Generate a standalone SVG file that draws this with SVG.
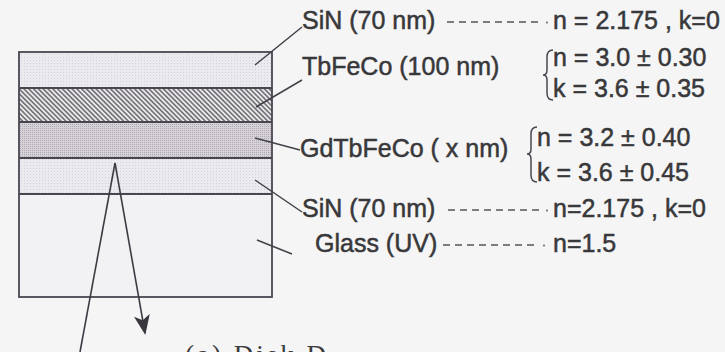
<svg xmlns="http://www.w3.org/2000/svg" width="725" height="352" viewBox="0 0 725 352">
  <style>
    .lbl { font-family: "Liberation Sans", Arial, sans-serif; font-size: 25px; fill: #38383a; stroke: #38383a; stroke-width: 0.5; }
    .cap { font-family: "Liberation Serif", "Times New Roman", serif; font-size: 27px; fill: #3a3a3c; letter-spacing: 3px; }
    .edge { fill: none; stroke: #4a4650; stroke-width: 1.8; }
    .lead { fill: none; stroke: #444048; stroke-width: 1.5; }
    .dash { fill: none; stroke: #555; stroke-width: 1.3; stroke-dasharray: 7 5; }
    .brace { fill: none; stroke: #4a4650; stroke-width: 1.5; }
    .ray { fill: none; stroke: #3f3b44; stroke-width: 1.6; }
  </style>
  <defs>
    <pattern id="dotsLight" width="3" height="3" patternUnits="userSpaceOnUse">
      <rect width="3" height="3" fill="#ebeaee"/>
      <rect x="0" y="0" width="1" height="1" fill="#d3d1d7"/>
    </pattern>
    <pattern id="dotsDark" width="2" height="2" patternUnits="userSpaceOnUse">
      <rect width="2" height="2" fill="#d6d2d8"/>
      <rect x="0" y="0" width="1" height="1" fill="#aea9b2"/>
    </pattern>
    <pattern id="hatch" width="4" height="3.4" patternUnits="userSpaceOnUse" patternTransform="rotate(45)">
      <rect width="4" height="3.4" fill="#ebebec"/>
      <line x1="0" y1="1.7" x2="4" y2="1.7" stroke="#55505a" stroke-width="1.3"/>
    </pattern>
    <marker id="arrow" viewBox="0 0 20 16" refX="18" refY="8" markerWidth="20" markerHeight="16" markerUnits="userSpaceOnUse" orient="auto">
      <path d="M0,0 L20,8 L0,16 L5,8 Z" fill="#3a363e"/>
    </marker>
  </defs>

  <rect width="725" height="352" fill="#f5f5f6"/>

  <g id="layer-sin-top">
    <rect x="19" y="52" width="253" height="36" fill="url(#dotsLight)"/>
    <text class="lbl" x="302" y="29">SiN (70 nm)</text>
    <text class="lbl" x="553" y="29">n = 2.175 , k=0</text>
  </g>
  <g id="layer-tbfeco">
    <rect x="19" y="88" width="253" height="34" fill="url(#hatch)"/>
    <text class="lbl" x="302" y="75">TbFeCo (100 nm)</text>
    <path class="brace" d="M553,50 Q547,50 547,57 L547,70 Q547,75 543,75 Q547,75 547,80 L547,93 Q547,100 553,100"/>
    <text class="lbl" x="553" y="66">n = 3.0 ± 0.30</text>
    <text class="lbl" x="553" y="97">k = 3.6 ± 0.35</text>
  </g>
  <g id="layer-gdtbfeco">
    <rect x="19" y="122" width="253" height="36" fill="url(#dotsDark)"/>
    <text class="lbl" x="300" y="157">GdTbFeCo ( x nm)</text>
    <path class="brace" d="M537,127 Q531,127 531,134 L531,149 Q531,154 527,154 Q531,154 531,159 L531,175 Q531,182 537,182"/>
    <text class="lbl" x="537" y="146">n = 3.2 ± 0.40</text>
    <text class="lbl" x="537" y="181">k = 3.6 ± 0.45</text>
  </g>
  <g id="layer-sin-bottom">
    <rect x="19" y="158" width="253" height="36" fill="url(#dotsLight)"/>
    <text class="lbl" x="302" y="217">SiN (70 nm)</text>
    <text class="lbl" x="553" y="217">n=2.175 , k=0</text>
  </g>
  <g id="layer-glass">
    <rect x="19" y="194" width="253" height="103" fill="#f2f2f4"/>
    <text class="lbl" x="315" y="252">Glass (UV)</text>
    <text class="lbl" x="553" y="252">n=1.5</text>
  </g>
  <g id="stack-outline">
    <rect class="edge" x="19" y="52" width="253" height="245"/>
    <line class="edge" x1="19" y1="88" x2="272" y2="88"/>
    <line class="edge" x1="19" y1="122" x2="272" y2="122"/>
    <line class="edge" x1="19" y1="158" x2="272" y2="158"/>
    <line class="edge" x1="19" y1="194" x2="272" y2="194"/>
  </g>

  <g id="connectors">
    <line class="lead" x1="255" y1="65" x2="302" y2="27"/>
    <line class="lead" x1="256" y1="107" x2="302" y2="80"/>
    <line class="lead" x1="255" y1="138" x2="300" y2="150"/>
    <line class="lead" x1="255" y1="180" x2="302" y2="212"/>
    <line class="lead" x1="257" y1="240" x2="292" y2="254"/>
    <line class="dash" x1="447" y1="22" x2="542" y2="22"/>
    <circle cx="547" cy="22.5" r="0.9" fill="#555"/>
    <line class="dash" x1="448" y1="210" x2="542" y2="210"/>
    <circle cx="547" cy="210.5" r="0.9" fill="#555"/>
    <line class="dash" x1="443" y1="245" x2="538" y2="245"/>
    <circle cx="544" cy="245.5" r="0.9" fill="#555"/>
    <line class="ray" x1="115" y1="163" x2="80" y2="352"/>
    <line class="ray" x1="115" y1="163" x2="145" y2="333" marker-end="url(#arrow)"/>
  </g>

  <text class="cap" x="185" y="364">(a) Disk D</text>
</svg>
